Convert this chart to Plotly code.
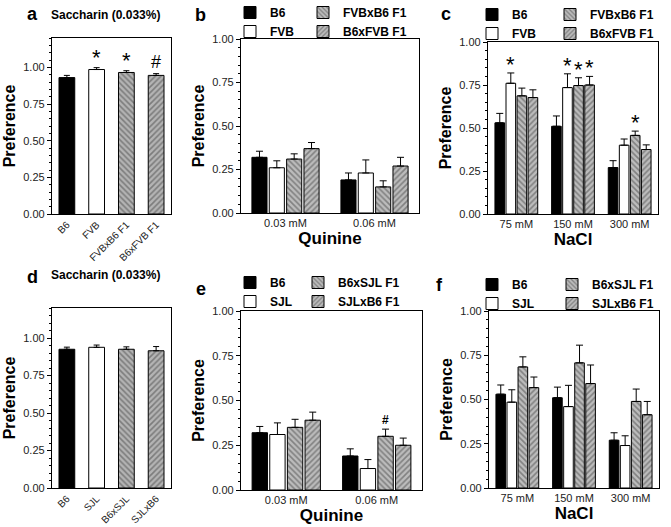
import plotly.graph_objects as go

# ---------------- data ----------------
# Panel a: saccharin, B6 x FVB cross
a_strains = ["B6", "FVB", "FVBxB6 F1", "B6xFVB F1"]
a_pref = [0.93, 0.985, 0.965, 0.945]
a_sem = [0.015, 0.013, 0.012, 0.012]
a_sig = ["", "*", "*", "#"]

# Panel b: quinine, B6 x FVB
quinine_conc = ["0.03 mM", "0.06 mM"]
bc_series = ["B6", "FVB", "FVBxB6 F1", "B6xFVB F1"]
b_pref = [[0.32, 0.19], [0.26, 0.23], [0.31, 0.15], [0.37, 0.27]]
b_sem = [[0.035, 0.04], [0.04, 0.075], [0.03, 0.035], [0.035, 0.05]]
b_sig = [["", ""], ["", ""], ["", ""], ["", ""]]

# Panel c: NaCl, B6 x FVB
nacl_conc = ["75 mM", "150 mM", "300 mM"]
c_pref = [[0.53, 0.51, 0.27], [0.76, 0.735, 0.40], [0.687, 0.747, 0.457], [0.677, 0.75, 0.375]]
c_sem = [[0.055, 0.06, 0.04], [0.06, 0.08, 0.036], [0.045, 0.045, 0.025], [0.045, 0.05, 0.027]]
c_sig = [["", "", ""], ["*", "*", ""], ["", "*", "*"], ["", "*", ""]]

# Panel d: saccharin, B6 x SJL cross
d_strains = ["B6", "SJL", "B6xSJL", "SJLxB6"]
d_pref = [0.925, 0.938, 0.925, 0.915]
d_sem = [0.014, 0.015, 0.016, 0.028]

# Panel e: quinine, B6 x SJL
ef_series = ["B6", "SJL", "B6xSJL F1", "SJLxB6 F1"]
e_pref = [[0.32, 0.19], [0.31, 0.12], [0.35, 0.30], [0.39, 0.25]]
e_sem = [[0.035, 0.04], [0.065, 0.05], [0.045, 0.04], [0.045, 0.04]]
e_sig = [["", ""], ["", ""], ["", "#"], ["", ""]]

# Panel f: NaCl, B6 x SJL
f_pref = [[0.53, 0.51, 0.27], [0.485, 0.46, 0.24], [0.684, 0.707, 0.489], [0.567, 0.59, 0.414]]
f_sem = [[0.052, 0.06, 0.042], [0.07, 0.12, 0.055], [0.057, 0.1, 0.07], [0.06, 0.105, 0.075]]

# ---------------- styles ----------------
FONT = "Liberation Sans, Arial, sans-serif"
W, H = 671, 527
BARGAP = 0.22
GROUPGAP = 0.13

STYLES = [
    dict(color="black", pattern=dict(shape="")),
    dict(color="white", pattern=dict(shape="")),
    dict(color="#b4b4b4", pattern=dict(shape="\\", fgcolor="#454545", bgcolor="#bcbcbc", size=4, solidity=0.4)),
    dict(color="#b4b4b4", pattern=dict(shape="/", fgcolor="#454545", bgcolor="#bcbcbc", size=4, solidity=0.4)),
]


def px_x(p):
    return p / W


def px_y(p):
    return 1 - p / H


fig = go.Figure()

# domains (pixel boxes: left, right, top, bottom)
boxes = {
    1: (52, 171, 38, 214),
    2: (241, 419, 39, 213),
    3: (488, 658, 42, 214),
    4: (52, 171, 308, 488),
    5: (241, 422, 311, 490),
    6: (489, 659, 311, 488),
}


def ax_name(i, kind):
    return kind if i == 1 else f"{kind}{i}"


def single_panel(i, cats, vals, sems):
    fig.add_trace(go.Bar(
        x=cats, y=vals, width=0.53,
        marker=dict(
            color=[s["color"] for s in STYLES],
            line=dict(color="black", width=1),
            pattern=dict(
                shape=[s["pattern"]["shape"] for s in STYLES],
                fgcolor=[s["pattern"].get("fgcolor", "black") for s in STYLES],
                bgcolor=[s["pattern"].get("bgcolor", s["color"]) for s in STYLES],
                size=4, solidity=0.4,
            ),
        ),
        error_y=dict(type="data", array=sems, arrayminus=[0] * len(sems), symmetric=False,
                     color="black", thickness=1, width=3),
        xaxis=ax_name(i, "x"), yaxis=ax_name(i, "y"), showlegend=False,
    ))


def grouped_panel(i, cats, names, vals, sems, legends):
    for k, (nm, v, s) in enumerate(zip(names, vals, sems)):
        st = STYLES[k]
        pat = dict(st["pattern"])
        fig.add_trace(go.Bar(
            x=cats, y=v, name=nm,
            marker=dict(color=st["color"], line=dict(color="black", width=1), pattern=pat),
            error_y=dict(type="data", array=s, arrayminus=[0] * len(s), symmetric=False,
                         color="black", thickness=1, width=3.5),
            xaxis=ax_name(i, "x"), yaxis=ax_name(i, "y"),
            legend=legends[0] if k < 2 else legends[1],
        ))


single_panel(1, a_strains, a_pref, a_sem)
grouped_panel(2, quinine_conc, bc_series, b_pref, b_sem, ["legend", "legend2"])
grouped_panel(3, nacl_conc, bc_series, c_pref, c_sem, ["legend3", "legend4"])
single_panel(4, d_strains, d_pref, d_sem)
grouped_panel(5, quinine_conc, ef_series, e_pref, e_sem, ["legend5", "legend6"])
grouped_panel(6, nacl_conc, ef_series, f_pref, f_sem, ["legend7", "legend8"])

layout = dict(
    width=W, height=H, margin=dict(l=0, r=0, t=0, b=0, autoexpand=False),
    paper_bgcolor="white", plot_bgcolor="white",
    barmode="group", bargap=BARGAP, bargroupgap=GROUPGAP,
    font=dict(family=FONT, color="black"),
)

xtitles = {2: "Quinine", 3: "NaCl", 5: "Quinine", 6: "NaCl"}
for i, (l, r, t, b) in boxes.items():
    ymax = 1.2 if i in (1, 4) else 1.0
    layout[f"xaxis{'' if i == 1 else i}"] = dict(
        domain=[px_x(l), px_x(r)], anchor=ax_name(i, "y"), type="category",
        showline=True, mirror=True, linecolor="black", linewidth=1.3, ticks="",
        tickfont=dict(size=10 if i in (1, 4) else 11, color="#222"),
        tickangle=-45 if i in (1, 4) else 0,
        title=dict(text=xtitles.get(i, ""), font=dict(size=17, weight="bold"), standoff=1),
        showgrid=False, zeroline=False, fixedrange=True, automargin=False,
    )
    layout[f"yaxis{'' if i == 1 else i}"] = dict(
        domain=[px_y(b), px_y(t)], anchor=ax_name(i, "x"), range=[0, ymax],
        tickmode="linear", tick0=0, dtick=0.25, tickformat=".2f",
        ticks="outside", ticklen=4, tickcolor="black",
        minor=dict(tickmode="linear", tick0=0, dtick=0.05, ticks="outside", ticklen=2, tickcolor="black"),
        showline=True, mirror=True, linecolor="black", linewidth=1.3,
        tickfont=dict(size=11, color="#222"),
        title=dict(text="Preference", font=dict(size=16, weight="bold"), standoff=3),
        showgrid=False, zeroline=False, fixedrange=True, automargin=False,
    )

# legends (two columns per grouped panel)
leg_pos = {
    "legend": (230, -2), "legend2": (303, -2),
    "legend3": (472, 0), "legend4": (550, 0),
    "legend5": (230, 268), "legend6": (298, 268),
    "legend7": (472, 270), "legend8": (552, 270),
}
for name, (lx, ly) in leg_pos.items():
    layout[name] = dict(
        x=px_x(lx), y=px_y(ly), xanchor="left", yanchor="top",
        bgcolor="rgba(0,0,0,0)", borderwidth=0, orientation="v",
        font=dict(size=12, family=FONT, color="black", weight="bold"),
        itemwidth=30, tracegroupgap=0,
    )

fig.update_layout(**layout)

annotations = []
# panel letters
for letter, (lx, ly) in {"a": (32, 14), "b": (200, 15), "c": (446, 14),
                         "d": (32, 277), "e": (201, 289), "f": (439, 285)}.items():
    annotations.append(dict(text=letter, x=px_x(lx), y=px_y(ly), xref="paper", yref="paper",
                            showarrow=False, font=dict(size=18, weight="bold"),
                            xanchor="center", yanchor="middle"))
# saccharin titles
for ty in (15, 275):
    annotations.append(dict(text="Saccharin (0.033%)", x=px_x(105), y=px_y(ty), xref="paper", yref="paper",
                            showarrow=False, font=dict(size=12, weight="bold"),
                            xanchor="center", yanchor="middle"))

# significance marks
for j, sym in enumerate(a_sig):
    if sym:
        annotations.append(dict(text=sym, x=j, y=a_pref[j] + a_sem[j], xref="x", yref="y",
                                showarrow=False, yanchor="bottom", yshift=-4 if sym == "*" else 0,
                                font=dict(size=22 if sym == "*" else 18)))


def group_offset(k, n=4):
    gw = 1 - BARGAP
    return -gw / 2 + gw / n * (k + 0.5)


def add_sig(i, pref, sem, sig):
    for k in range(len(pref)):
        for j in range(len(pref[k])):
            sym = sig[k][j]
            if sym:
                annotations.append(dict(
                    text=sym, x=j + group_offset(k), y=pref[k][j] + sem[k][j],
                    xref=ax_name(i, "x"), yref=ax_name(i, "y"), showarrow=False, yanchor="bottom",
                    yshift=-6 if sym == "*" else 0,
                    font=dict(size=22 if sym == "*" else 12, weight="bold" if sym == "#" else "normal")))


add_sig(2, b_pref, b_sem, b_sig)
add_sig(3, c_pref, c_sem, c_sig)
add_sig(5, e_pref, e_sem, e_sig)

fig.update_layout(annotations=annotations)
fig.write_html("out.html", config={"displayModeBar": False},
               post_script="document.body.style.margin='0';document.body.style.padding='0';")
